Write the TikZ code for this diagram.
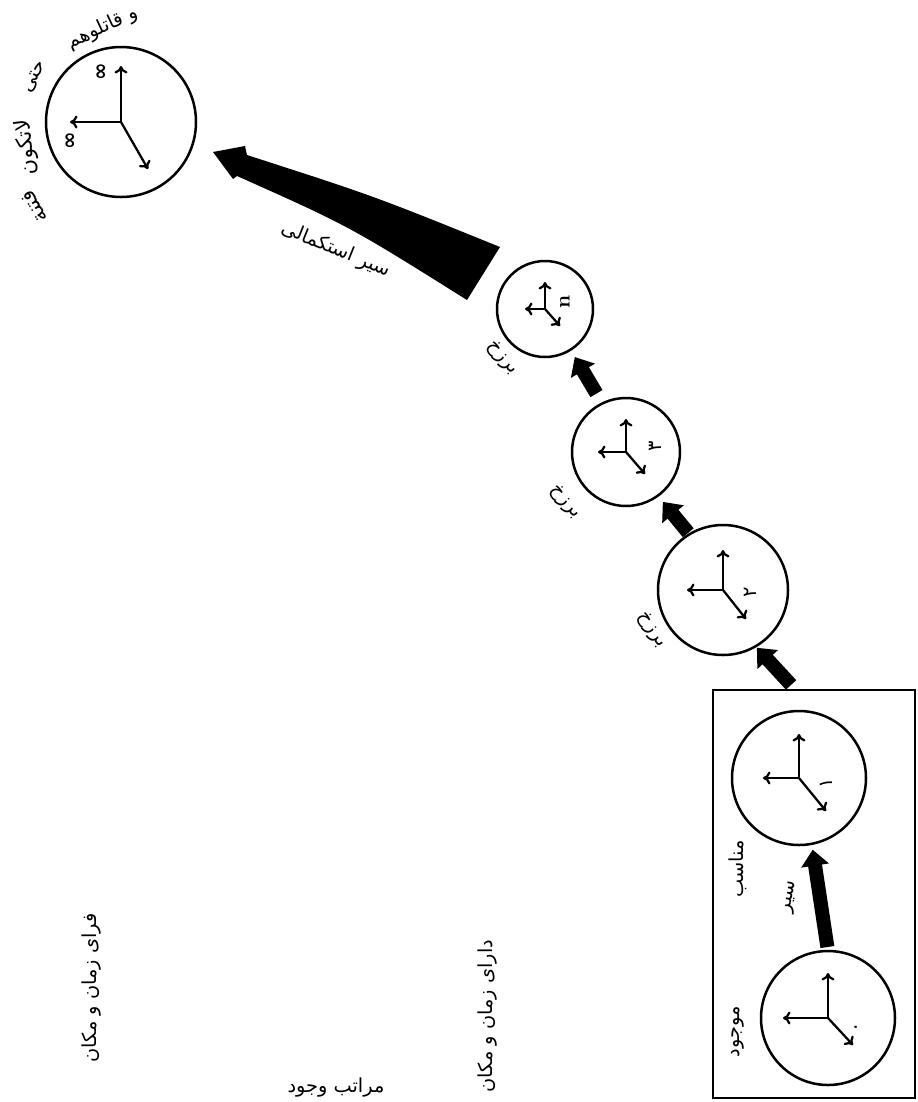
\documentclass[tikz,border=0pt]{standalone}
\usepackage{fontspec}
\usepackage{tkz-graph}
\usetikzlibrary{arrows.meta}
\newfontfamily\fafont[Script=Arabic]{DejaVu Sans}
\TeXXeTstate=1

\begin{document}
\begin{tikzpicture}[x=0.2mm, y=-0.2mm,
	hand/.style = {line width=0.45mm, -{To[length=1.5mm, width=2.6mm]}},
	fat/.style = {line width=2.8mm, -{Triangle[length=3.2mm, width=5.4mm]}},
	lab/.style = {font=\fafont\fontsize{11}{13}\selectfont, inner sep=0pt},
	num/.style = {font=\fafont\fontsize{11}{13}\selectfont, inner sep=0pt, rotate=90}]
	\useasboundingbox (0,0) rectangle (917,1102);
	\SetVertexNoLabel
	\begin{scope}[VertexStyle/.append style = {line width=0.5mm, inner sep=0pt, minimum size=26.8mm}]
		\Vertex[x=828 ,y=1018]{c1}
		\Vertex[x=799 ,y=778]{c2}
	\end{scope}
	\begin{scope}[VertexStyle/.append style = {line width=0.5mm, inner sep=0pt, minimum size=26mm}]
		\Vertex[x=723 ,y=590]{c3}
	\end{scope}
	\begin{scope}[VertexStyle/.append style = {line width=0.5mm, inner sep=0pt, minimum size=21.6mm}]
		\Vertex[x=626 ,y=452]{c4}
	\end{scope}
	\begin{scope}[VertexStyle/.append style = {line width=0.5mm, inner sep=0pt, minimum size=19.2mm}]
		\Vertex[x=545 ,y=309]{c5}
	\end{scope}
	\begin{scope}[VertexStyle/.append style = {line width=0.5mm, inner sep=0pt, minimum size=30mm}]
		\Vertex[x=121 ,y=122]{top}
	\end{scope}
	% hands: up, left, down-right
	\foreach \v/\u/\l/\dx/\dy in {c1/45/45/25/27, c2/44/36/27/33, c3/40/36/23/29,
		c4/33/28/19/22, c5/27/20/15/17, top/56/51/27/47}{
		\draw[hand] (\v.center) -- ++(0,-\u);
		\draw[hand] (\v.center) -- ++(-\l,0);
		\draw[hand] (\v.center) -- ++(\dx,\dy);
	}
	\node[num] (n0) at (858,1027) {۰};
	\node[num] (n1) at (826,783) {۱};
	\node[num] (n2) at (750,592) {۲};
	\node[num] (n3) at (655,446) {۳};
	\node[num, font=\bfseries\fontsize{12}{14}\selectfont] (nn) at (565,302) {n};
	\node[num, font=\fafont\bfseries\fontsize{12}{14}\selectfont] (inf1) at (102,72) {∞};
	\node[num, font=\fafont\bfseries\fontsize{12}{14}\selectfont] (inf2) at (71,141) {∞};
	% box round the lower two
	\draw[line width=0.5mm] (713,690) rectangle (915,1098);
	\draw[fat, shorten <=0.8mm, shorten >=1.2mm] (c1.90) -- (c2.-79);
	\draw[fat, shorten <=7.8mm, shorten >=0.4mm] (c2.74) -- (c3.-60);
	\draw[fat, shorten <=0.4mm, shorten >=1.6mm] (c3.121) -- (c4.-54);
	\draw[fat, shorten <=2.3mm, shorten >=1.7mm] (c4.116) -- (c5.-58);
	% big arrow from c5 to top
	\fill (213,152) -- (245,146) -- (247,155) .. controls (374,196) .. (500,247)
		-- (467,300) .. controls (349,226) .. (237,176) -- (233,179) -- cycle;
	\node[lab, rotate=-22] (ascent) at (336,250) {\beginR سیر استکمالی\endR};
	\node[lab, rotate=25] (q1) at (103,28) {\beginR و قاتلوهم\endR};
	\node[lab, rotate=63] (q2) at (35,77) {\beginR حتی\endR};
	\node[lab, rotate=97, font=\fafont\fontsize{12}{14}\selectfont] (q3) at (27,147) {\beginR لاتکون\endR};
	\node[lab, rotate=120, font=\fafont\fontsize{12}{14}\selectfont] (q4) at (34,207) {\beginR فتنة\endR};
	\node[lab, rotate=-50] (b5) at (502,358) {\beginR برزخ\endR};
	\node[lab, rotate=-50] (b4) at (565,502) {\beginR برزخ\endR};
	\node[lab, rotate=-57] (b3) at (652,630) {\beginR برزخ\endR};
	\node[lab, rotate=90] (l0) at (738,1032) {\beginR موجود\endR};
	\node[lab, rotate=90] (l1) at (738,869) {\beginR مناسب\endR};
	\node[lab, rotate=80] (path) at (791,897) {\beginR سیر\endR};
	\node[lab, rotate=90] (beyond) at (92,988) {\beginR فرای زمان و مکان\endR};
	\node[lab, rotate=90] (within) at (488,1016) {\beginR دارای زمان و مکان\endR};
	\node[lab] (levels) at (336,1088) {\beginR مراتب وجود\endR};
\end{tikzpicture}
\end{document}
